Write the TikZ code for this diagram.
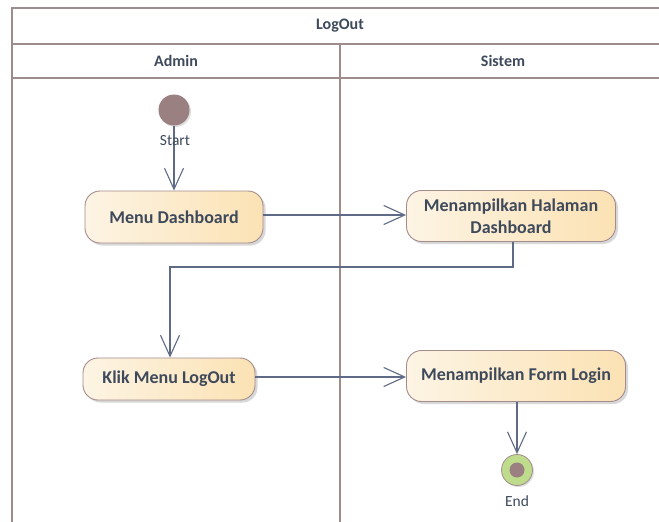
\documentclass[tikz,border=0pt]{standalone}
\usepackage{fontspec}
\setmainfont{Carlito}
\usetikzlibrary{arrows.meta,shadows}
\definecolor{framec}{HTML}{9C8C8C}
\definecolor{linec}{HTML}{5F6B86}
\definecolor{txtc}{HTML}{3E4A5C}
\definecolor{fillL}{HTML}{FDF4E4}
\definecolor{fillR}{HTML}{FBE2B4}
\definecolor{bordc}{HTML}{A48C8C}
\definecolor{startc}{HTML}{9A8080}
\definecolor{endg}{HTML}{BEDC8C}
\tikzset{
  x=1pt,y=-1pt,
  frame/.style={draw=framec,line width=2pt},
  act/.style={draw=bordc,line width=0.9pt,rounded corners=15pt,left color=fillL,right color=fillR,
     font=\bfseries\fontsize{18}{22}\selectfont,text=txtc,align=center,
     drop shadow={shadow xshift=2.5pt,shadow yshift=-2.5pt,fill=black!25,opacity=0.6}},
  flow/.style={draw=linec,line width=1.1pt,-{Straight Barb[length=21pt,width=19pt,line width=1.1pt]}},
  lbl/.style={font=\fontsize{15.5}{18}\selectfont,text=txtc},
  hdr/.style={font=\bfseries\fontsize{16}{19}\selectfont,text=txtc}
}
\begin{document}
\begin{tikzpicture}
\useasboundingbox (0,0) rectangle (659,522);
\fill[white] (0,0) rectangle (659,522);
% frame
\draw[frame] (12,524) -- (12,8) -- (662,8);
\draw[frame] (12,44) -- (662,44);
\draw[frame] (12,78) -- (662,78);
\draw[frame] (340,44) -- (340,524);
\node[hdr] (title) at (340,26) {LogOut};
\node[hdr] (la) at (176,61) {Admin};
\node[hdr] (ls) at (503,61) {Sistem};
% nodes
\node[circle,fill=startc,minimum size=31pt,inner sep=0pt,drop shadow={shadow xshift=1.5pt,shadow yshift=-1.5pt,fill=black!25,opacity=0.5}] (start) at (174,110) {};
\node[act,minimum width=178pt,minimum height=52pt] (md) at (174,217) {Menu Dashboard};
\node[act,minimum width=209pt,minimum height=51pt] (mh) at (511,216) {Menampilkan Halaman\\Dashboard};
\node[act,minimum width=172pt,minimum height=42pt] (kl) at (169,379) {Klik Menu LogOut};
\node[act,minimum width=219pt,minimum height=51pt] (fl) at (516,376) {Menampilkan Form Login};
\node[circle,draw=bordc,line width=0.8pt,fill=endg,minimum size=31pt,inner sep=0pt,drop shadow={shadow xshift=1.5pt,shadow yshift=-1.5pt,fill=black!25,opacity=0.5}] (end) at (517,470) {};
\node[circle,fill=startc,minimum size=15pt,inner sep=0pt] (endin) at (end.center) {};
% edges
\draw[flow] (start.south) -- (md.north);
\node[lbl] (sl) at (175,141) {Start};
\node[lbl] (el) at (517,501) {End};
\draw[flow] (md.east |- 0,215) -- (mh.west |- 0,215);
\coordinate (c1) at (513,267);
\coordinate (c2) at (170,267);
\draw[flow] (mh.south -| c1) -- (c1) -- (c2) -- (kl.north -| c2);
\draw[flow] (kl.east |- 0,377) -- (fl.west |- 0,377);
\draw[flow] (fl.south -| end.north) -- (end.north);
\end{tikzpicture}
\end{document}
